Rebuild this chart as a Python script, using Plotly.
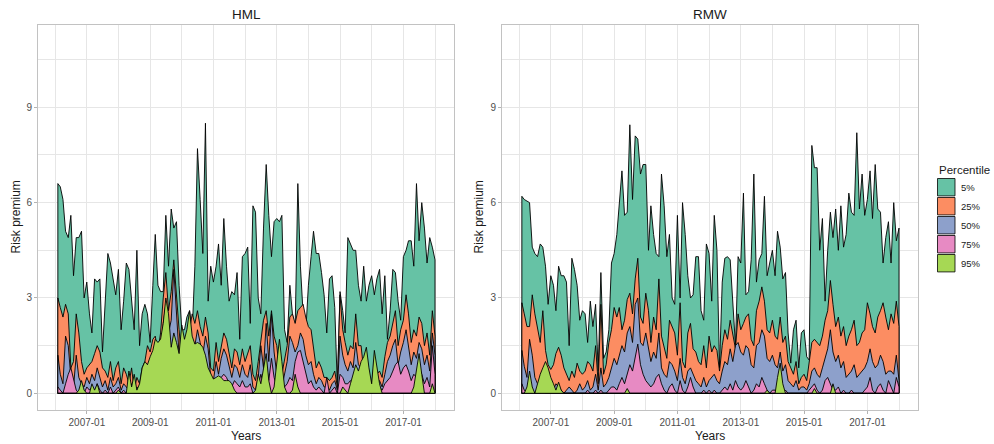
import pandas as pd
import plotly.graph_objects as go

# Monthly observation dates (month ends, Jan 2006 - Dec 2017)
dates = pd.date_range(start="2006-01-31", end="2017-12-31", freq=pd.offsets.MonthEnd())

percentiles = ["5%", "25%", "50%", "75%", "95%"]
colors = ["#66C2A5", "#FC8D62", "#8DA0CB", "#E78AC3", "#A6D854"]

# ---------------- HML risk premium by percentile ----------------
hml_p5 = [
    6.6, 6.5, 6.1, 5.1, 4.9, 5.6, 3.7, 4.9, 4.9, 5.1, 3.0, 3.5,
    2.5, 1.9, 3.6, 3.5, 3.6, 1.3, 2.9, 4.4, 4.1, 3.6, 3.1, 3.9,
    2.0, 2.9, 4.1, 3.9, 2.9, 2.0, 4.5, 1.5, 2.5, 2.8, 2.5, 1.6,
    3.4, 5.0, 3.4, 3.2, 3.2, 5.6, 4.0, 5.8, 5.2, 5.4, 3.4, 2.0,
    2.0, 2.4, 2.6, 1.9, 4.0, 7.7, 6.1, 4.4, 8.5, 2.9, 4.0, 3.5,
    4.0, 4.7, 3.4, 5.5, 4.0, 2.9, 3.2, 3.1, 3.8, 1.7, 4.3, 4.4,
    4.6, 2.2, 5.9, 5.7, 3.0, 2.5, 5.2, 7.2, 5.6, 4.3, 5.4, 5.5,
    5.4, 5.6, 2.0, 1.6, 3.4, 2.5, 2.0, 6.6, 4.0, 2.5, 1.9, 3.4,
    4.3, 5.1, 4.4, 4.4, 3.8, 3.1, 1.9, 3.6, 3.7, 2.7, 0.2, 3.2,
    2.6, 1.9, 4.9, 4.7, 4.5, 4.5, 3.4, 2.9, 4.0, 2.9, 3.4, 3.7,
    3.1, 3.6, 3.9, 2.5, 3.7, 1.7, 2.6, 3.9, 3.8, 2.9, 2.3, 4.3,
    4.5, 4.8, 4.8, 4.0, 6.6, 4.8, 6.0, 5.2, 4.1, 4.9, 4.6, 4.2,
]
hml_p25 = [
    3.0, 2.7, 2.4, 2.8, 2.5, 0.8, 1.0, 2.5, 1.9, 1.0, 0.6, 0.8,
    0.9, 1.0, 1.25, 1.5, 1.3, 0.8, 0.7, 0.5, 1.0, 0.4, 0.8, 1.0,
    0.3, 0.8, 0.6, 0.3, 0.8, 0.1, 0.5, 0.3, 0.8, 1.0, 1.5, 1.3,
    1.7, 1.8, 1.3, 1.9, 3.0, 3.8, 2.6, 3.2, 4.2, 3.0, 2.0, 1.0,
    1.5, 1.2, 2.0, 2.5, 2.2, 2.6, 2.1, 1.8, 2.4, 1.9, 0.8, 0.7,
    1.6, 1.0, 1.5, 1.9, 1.7, 1.2, 0.8, 1.4, 1.3, 0.9, 1.4, 1.0,
    1.3, 1.5, 0.6, 0.4, 1.0, 1.7, 2.3, 2.6, 1.8, 2.6, 1.8, 1.5,
    0.7, 0.6, 1.0, 1.5, 2.4, 2.5, 2.2, 2.6, 2.7, 2.8, 2.4, 2.1,
    2.0, 1.5, 0.8, 1.0, 0.8, 0.5, 0.5, 0.4, 0.5, 0.7, 0.2, 3.1,
    2.0, 1.6, 1.2, 1.5, 1.4, 2.5, 1.5, 1.5, 0.7, 0.5, 0.4, 0.3,
    1.0, 0.6, 0.7, 0.5, 1.15, 1.6, 1.8, 2.2, 2.6, 1.5, 2.0, 2.3,
    3.1, 2.5, 1.6, 2.0, 1.8, 2.4, 2.2, 1.5, 1.9, 1.2, 2.6, 1.8,
]
hml_p50 = [
    1.2, 0.6, 0.3, 1.8, 1.5, 0.5, 0.2, 1.2, 0.5, 0.3, 0.2, 0.5,
    0.3, 0.6, 0.4, 0.8, 0.5, 0.2, 0.4, 0.1, 0.5, 0.2, 0.3, 0.5,
    0.1, 0.3, 0.2, 0.1, 0.3, 0.0, 0.2, 0.1, 0.4, 0.5, 0.9, 0.7,
    1.0, 1.2, 0.8, 1.1, 2.2, 2.8, 1.9, 2.3, 3.9, 2.5, 1.2, 0.6,
    1.0, 0.8, 1.3, 1.7, 1.5, 2.0, 1.6, 1.2, 1.8, 1.4, 0.5, 0.4,
    1.0, 0.6, 1.1, 1.4, 1.2, 0.8, 0.5, 0.9, 0.8, 0.5, 0.9, 0.6,
    0.5, 0.9, 0.2, 0.1, 0.5, 1.5, 0.8, 2.2, 1.0, 2.5, 1.3, 0.6,
    0.3, 0.2, 0.6, 1.0, 1.8, 1.6, 1.3, 1.5, 1.9, 1.7, 1.2, 0.9,
    1.0, 0.6, 0.3, 0.5, 0.4, 0.2, 0.2, 0.1, 0.3, 0.4, 0.1, 1.8,
    1.2, 0.9, 0.7, 1.0, 0.8, 1.6, 0.9, 0.8, 0.3, 0.2, 0.2, 0.1,
    0.5, 0.3, 0.4, 0.2, 0.6, 1.0, 1.2, 1.5, 1.7, 0.9, 1.3, 1.6,
    2.0, 1.5, 0.9, 1.3, 1.1, 1.6, 1.4, 0.9, 1.2, 0.7, 1.9, 1.2,
]
hml_p75 = [
    0.2, 0.1, 0.0, 0.3, 0.6, 0.8, 0.4, 0.1, 0.0, 0.1, 0.0, 0.2,
    0.1, 0.2, 0.0, 0.3, 0.1, 0.0, 0.1, 0.0, 0.2, 0.0, 0.1, 0.2,
    0.0, 0.1, 0.0, 0.0, 0.1, 0.0, 0.0, 0.0, 0.1, 0.2, 0.4, 0.3,
    0.4, 0.6, 0.4, 0.5, 1.0, 1.4, 0.9, 1.0, 1.6, 1.2, 0.5, 0.3,
    0.5, 0.4, 0.6, 0.8, 0.7, 1.0, 0.8, 0.6, 0.9, 0.6, 0.2, 0.2,
    0.4, 0.2, 0.5, 0.6, 0.5, 0.3, 0.2, 0.4, 0.3, 0.2, 0.4, 0.2,
    0.2, 0.3, 0.0, 0.0, 0.2, 0.6, 0.3, 0.9, 0.4, 1.1, 0.5, 0.2,
    0.1, 0.0, 0.2, 0.3, 0.5, 0.4, 1.0, 1.3, 1.35, 1.0, 0.6, 0.3,
    0.4, 0.2, 0.1, 0.2, 0.1, 0.0, 0.5, 0.0, 0.1, 0.2, 0.0, 0.6,
    0.5, 0.3, 0.3, 0.4, 0.3, 0.7, 0.4, 0.3, 0.1, 0.0, 0.1, 0.0,
    0.2, 0.1, 0.2, 0.1, 0.3, 0.4, 0.5, 0.7, 0.9, 1.0, 0.6, 0.8,
    0.9, 0.7, 0.4, 0.6, 0.5, 0.8, 0.6, 0.3, 0.5, 0.2, 1.5, 0.6,
]
hml_p95 = [
    0.0, 0.0, 0.0, 0.0, 0.0, 0.0, 0.0, 0.0, 0.1, 0.4, 0.1, 0.0,
    0.0, 0.3, 0.1, 0.3, 0.0, 0.0, 0.0, 0.0, 0.0, 0.0, 0.0, 0.1,
    0.0, 0.0, 0.0, 0.7, 0.2, 0.6, 0.1, 0.3, 0.8, 1.0, 0.9, 1.15,
    1.35, 1.7, 1.6, 1.7, 2.2, 3.0, 2.5, 1.45, 1.9, 1.6, 1.25, 2.15,
    1.7, 2.0, 2.6, 1.8, 1.55, 1.6, 1.55, 1.45, 1.2, 0.8, 0.6, 0.45,
    0.5, 0.55, 0.5, 0.4, 0.4, 0.4, 0.3, 0.1, 0.0, 0.0, 0.0, 0.0,
    0.0, 0.0, 0.0, 0.1, 0.6, 0.3, 0.8, 1.25, 0.4, 0.0, 0.2, 0.9,
    1.7, 1.0, 0.2, 0.0, 0.0, 0.1, 0.6, 0.2, 0.0, 0.0, 0.0, 0.0,
    0.0, 0.0, 0.0, 0.0, 0.0, 0.0, 0.0, 0.0, 0.0, 0.0, 0.0, 0.0,
    0.2, 0.1, 0.0, 0.3, 0.6, 0.9, 0.7, 1.0, 1.15, 1.45, 0.8, 0.3,
    1.35, 0.9, 0.3, 0.0, 0.0, 0.0, 0.0, 0.0, 0.0, 0.0, 0.0, 0.0,
    0.0, 0.0, 0.0, 0.2, 0.7, 1.25, 0.6, 0.0, 0.0, 0.0, 0.3, 0.0,
]

# ---------------- RMW risk premium by percentile ----------------
rmw_p5 = [
    6.2, 6.1, 6.05, 6.0, 4.6, 4.4, 4.3, 4.7, 4.6, 4.0, 2.8, 3.7,
    3.4, 2.6, 4.0, 3.7, 3.7, 3.5, 1.5, 4.25, 3.9, 3.4, 2.3, 2.6,
    2.5, 1.6, 2.9, 2.1, 2.8, 0.7, 3.8, 1.1, 1.3, 2.0, 4.1, 4.4,
    5.0, 6.1, 7.0, 5.6, 5.7, 8.45, 6.1, 8.1, 8.0, 6.9, 7.2, 7.2,
    4.5, 5.9, 5.0, 4.4, 4.3, 6.9, 5.9, 4.3, 5.0, 3.0, 2.8, 5.6,
    3.0, 6.0, 5.0, 3.7, 3.0, 3.1, 4.3, 4.3, 2.6, 2.3, 4.7, 4.4,
    2.9, 5.6, 4.5, 0.8, 3.5, 4.25, 4.3, 4.2, 2.7, 1.5, 4.3, 4.1,
    6.3, 3.1, 3.2, 4.2, 6.9, 3.5, 4.2, 4.4, 6.2, 3.7, 4.1, 4.5,
    3.7, 5.1, 4.6, 3.6, 3.8, 1.9, 0.95, 2.0, 2.3, 0.8, 1.9, 2.0,
    1.15, 1.05, 7.8, 7.1, 7.1, 4.5, 5.5, 2.9, 4.5, 5.7, 4.9, 5.8,
    4.5, 5.9, 4.6, 5.0, 6.3, 5.7, 5.6, 8.2, 5.8, 6.9, 5.6, 6.1,
    7.0, 5.5, 7.2, 5.8, 5.7, 4.1, 4.9, 5.4, 4.1, 6.0, 4.8, 5.2,
]
rmw_p25 = [
    2.85, 2.5, 2.1, 2.1, 3.1, 2.5, 2.0, 1.6, 2.6, 1.35, 0.9, 0.75,
    0.9, 1.25, 1.45, 1.2, 0.8, 0.6, 0.4, 0.7, 0.5, 0.95, 0.7, 0.6,
    0.7, 1.0, 0.9, 0.7, 1.5, 0.3, 2.8, 0.6, 0.9, 1.6, 2.0, 2.7,
    2.4, 2.7, 2.0, 2.3, 2.95, 3.15, 2.5, 3.6, 4.25, 2.4, 2.2, 3.15,
    2.6, 1.6, 2.4, 2.0, 3.6, 1.8, 1.4, 1.1, 2.3, 2.1, 1.9, 1.2,
    2.85, 1.0, 0.8, 1.9, 2.2, 1.4, 1.3, 1.0, 0.9, 1.5, 0.8, 1.8,
    1.3, 1.5, 1.35, 0.7, 1.5, 2.0, 1.7, 2.3, 1.8, 1.4, 2.5, 2.0,
    2.2, 2.4, 2.5, 1.7, 1.5, 2.6, 2.9, 3.35, 2.9, 2.0, 1.9, 2.3,
    1.8, 1.7, 2.4, 1.6, 1.8, 1.0, 0.8, 0.6, 1.0, 0.3, 0.5, 0.6,
    0.4, 0.9, 1.6, 1.7, 1.6, 1.5, 1.8, 2.3, 2.6, 3.55, 2.8, 2.1,
    2.4, 1.8, 2.1, 1.5, 1.8, 2.0, 2.3, 1.5, 1.6, 1.9, 2.0, 2.85,
    2.5, 2.1, 1.9, 2.4, 2.6, 2.85, 2.4, 2.0, 2.5, 2.2, 2.9, 2.1,
]
rmw_p50 = [
    1.35, 0.85, 0.5, 1.7, 1.2, 0.5, 0.3, 0.2, 0.7, 0.3, 0.1, 0.2,
    0.1, 0.3, 0.2, 0.1, 0.0, 0.1, 0.2, 0.1, 0.0, 0.1, 0.3, 0.1,
    0.2, 0.4, 0.1, 0.2, 0.6, 0.1, 0.8, 0.2, 0.3, 0.5, 0.8, 1.1,
    0.9, 1.2, 1.5, 1.3, 1.9, 2.1, 1.6, 2.8, 3.0, 1.6, 1.5, 1.9,
    1.4, 1.0, 1.3, 1.1, 1.9, 0.8, 0.6, 0.5, 1.0, 0.9, 0.7, 0.4,
    1.1, 0.5, 0.3, 0.7, 0.8, 0.6, 0.4, 0.3, 0.2, 0.5, 0.2, 0.4,
    0.5, 0.6, 0.4, 0.3, 0.7, 1.0, 0.9, 1.4, 1.0, 1.5, 1.6, 1.3,
    1.2, 1.5, 1.4, 0.9, 0.8, 1.5, 1.6, 2.0, 1.8, 1.1, 1.0, 1.2,
    0.9, 0.8, 1.3, 0.7, 0.9, 0.4, 0.3, 0.2, 0.4, 0.1, 0.2, 0.2,
    0.1, 0.3, 0.7, 0.8, 0.6, 0.5, 0.8, 1.1, 1.4, 2.0, 1.3, 1.0,
    1.2, 0.8, 1.0, 0.5, 0.6, 0.7, 0.9, 0.5, 0.6, 0.7, 0.8, 1.0,
    1.4, 1.0, 0.8, 0.9, 1.2, 1.0, 0.6, 0.7, 0.7, 0.6, 1.2, 0.4,
]
rmw_p75 = [
    0.3, 0.1, 0.0, 0.2, 0.1, 0.0, 0.0, 0.0, 0.2, 0.0, 0.0, 0.0,
    0.0, 0.0, 0.0, 0.0, 0.0, 0.0, 0.0, 0.0, 0.0, 0.0, 0.0, 0.0,
    0.0, 0.1, 0.0, 0.0, 0.1, 0.0, 0.1, 0.0, 0.0, 0.1, 0.2, 0.2,
    0.1, 0.3, 0.5, 0.3, 0.6, 0.9, 0.7, 1.2, 1.55, 0.9, 0.6, 0.4,
    0.3, 0.2, 0.3, 0.5, 0.6, 0.3, 0.1, 0.0, 0.2, 0.3, 0.1, 0.0,
    0.4, 0.1, 0.0, 0.2, 0.5, 0.2, 0.0, 0.0, 0.0, 0.1, 0.0, 0.1,
    0.0, 0.1, 0.0, 0.0, 0.1, 0.2, 0.1, 0.3, 0.1, 0.4, 0.2, 0.1,
    0.2, 0.4, 0.2, 0.0, 0.1, 0.3, 0.2, 0.5, 0.3, 0.1, 0.0, 0.1,
    0.1, 0.0, 0.2, 0.0, 0.1, 0.0, 0.0, 0.0, 0.0, 0.0, 0.0, 0.0,
    0.0, 0.1, 0.2, 0.3, 0.1, 0.0, 0.1, 0.4, 0.5, 0.3, 0.1, 0.1,
    0.2, 0.0, 0.1, 0.0, 0.0, 0.1, 0.0, 0.0, 0.0, 0.0, 0.1, 0.2,
    0.5, 0.1, 0.0, 0.2, 0.3, 0.1, 0.0, 0.4, 0.2, 0.0, 0.5, 0.2,
]
rmw_p95 = [
    0.0, 0.0, 0.2, 0.7, 0.2, 0.0, 0.3, 0.6, 0.8, 1.0, 0.8, 0.5,
    0.3, 0.1, 0.35, 0.1, 0.0, 0.0, 0.0, 0.0, 0.0, 0.0, 0.0, 0.0,
    0.0, 0.0, 0.0, 0.0, 0.0, 0.0, 0.0, 0.0, 0.0, 0.0, 0.0, 0.0,
    0.0, 0.0, 0.0, 0.0, 0.15, 0.0, 0.0, 0.0, 0.0, 0.0, 0.0, 0.0,
    0.0, 0.0, 0.0, 0.0, 0.0, 0.0, 0.0, 0.0, 0.0, 0.0, 0.0, 0.0,
    0.0, 0.0, 0.0, 0.0, 0.0, 0.0, 0.0, 0.0, 0.0, 0.0, 0.0, 0.0,
    0.0, 0.0, 0.0, 0.0, 0.0, 0.0, 0.0, 0.0, 0.0, 0.0, 0.0, 0.0,
    0.0, 0.0, 0.0, 0.0, 0.0, 0.0, 0.0, 0.0, 0.0, 0.1, 0.0, 0.0,
    0.0, 0.5, 0.95, 0.3, 0.0, 0.0, 0.0, 0.0, 0.0, 0.0, 0.0, 0.0,
    0.0, 0.0, 0.0, 0.15, 0.0, 0.0, 0.0, 0.0, 0.0, 0.0, 0.3, 0.0,
    0.0, 0.0, 0.0, 0.0, 0.0, 0.0, 0.0, 0.0, 0.0, 0.0, 0.0, 0.0,
    0.0, 0.0, 0.0, 0.0, 0.0, 0.0, 0.0, 0.0, 0.0, 0.0, 0.0, 0.0,
]

panels = {
    "HML": [hml_p5, hml_p25, hml_p50, hml_p75, hml_p95],
    "RMW": [rmw_p5, rmw_p25, rmw_p50, rmw_p75, rmw_p95],
}

# ---------------- geometry (pixels of the 994 x 444 canvas) ----------------
W, H = 994, 444
ML, MR, MT, MB = 38, 76, 25, 34
PW, PH = W - ML - MR, H - MT - MB


def px(x):
    return (x - ML) / PW


def py(y):
    return (H - MB - y) / PH


FONT = "Liberation Sans, Arial, Helvetica, sans-serif"
GRID = "#E6E6E6"
BORDER = "#C2C2C2"
TXT = "#4D4D4D"

fig = go.Figure()

x_dates = list(dates)
for k, (name, series) in enumerate(panels.items()):
    xa = "x" if k == 0 else "x2"
    ya = "y" if k == 0 else "y2"
    for vals, lab, col in zip(series, percentiles, colors):
        # closed polygon so the outline runs down both edges and along zero
        xs = [x_dates[0]] + x_dates + [x_dates[-1], x_dates[0]]
        ys = [0.0] + list(vals) + [0.0, 0.0]
        fig.add_trace(go.Scatter(
            x=xs, y=ys, mode="lines", fill="toself", fillcolor=col,
            line=dict(color="black", width=0.9),
            name=lab, showlegend=False, hoverinfo="skip",
            xaxis=xa, yaxis=ya,
        ))

x_range = ["2005-06-16", "2018-08-07"]
y_range = [-0.525, 11.59]

xaxis_common = dict(
    type="date", range=x_range, tickformat="%Y-%m",
    tick0="2007-01-01", dtick="M24",
    showgrid=True, gridcolor=GRID, gridwidth=1,
    minor=dict(tick0="2006-01-01", dtick="M24", showgrid=True,
               gridcolor=GRID, gridwidth=0.8, ticks=""),
    ticks="outside", ticklen=3, tickcolor="#B3B3B3", tickwidth=0.8,
    showline=True, mirror=True, linecolor=BORDER, linewidth=1,
    tickfont=dict(family=FONT, size=10, color=TXT),
    zeroline=False,
)
yaxis_common = dict(
    range=y_range, tickvals=[0, 3, 6, 9],
    showgrid=True, gridcolor=GRID, gridwidth=1,
    minor=dict(tickvals=[1.5, 4.5, 7.5, 10.5], showgrid=True,
               gridcolor=GRID, gridwidth=0.8, ticks=""),
    ticks="outside", ticklen=3, tickcolor="#B3B3B3", tickwidth=0.8,
    showline=True, mirror=True, linecolor=BORDER, linewidth=1,
    tickfont=dict(family=FONT, size=10, color=TXT),
    zeroline=False,
)

left_dom = [0.0, px(454)]
right_dom = [px(502), 1.0]

fig.update_layout(
    width=W, height=H,
    margin=dict(l=ML, r=MR, t=MT, b=MB),
    paper_bgcolor="white", plot_bgcolor="white",
    showlegend=False,
    xaxis=dict(domain=left_dom, anchor="y", **xaxis_common),
    yaxis=dict(domain=[0, 1], anchor="x", **yaxis_common),
    xaxis2=dict(domain=right_dom, anchor="y2", **xaxis_common),
    yaxis2=dict(domain=[0, 1], anchor="x2", **yaxis_common),
)

annotations = []
shapes = []

# facet titles and axis titles
for name, (x0, x1), ytitle_x in [("HML", (38, 454), 15), ("RMW", (502, 918), 478)]:
    xc = (x0 + x1) / 2
    annotations.append(dict(text=name, x=px(xc), y=py(14.5), xref="paper", yref="paper",
                            showarrow=False, xanchor="center", yanchor="middle",
                            font=dict(family=FONT, size=13.5, color="#1A1A1A")))
    annotations.append(dict(text="Years", x=px(xc), y=py(436), xref="paper", yref="paper",
                            showarrow=False, xanchor="center", yanchor="middle",
                            font=dict(family=FONT, size=12, color="#1A1A1A")))
    annotations.append(dict(text="Risk premium", x=px(ytitle_x), y=py(217.5),
                            xref="paper", yref="paper", textangle=-90,
                            showarrow=False, xanchor="center", yanchor="middle",
                            font=dict(family=FONT, size=12, color="#1A1A1A")))

# legend: title, colour keys and labels
annotations.append(dict(text="Percentile", x=px(937), y=py(170), xref="paper", yref="paper",
                        showarrow=False, xanchor="left", yanchor="middle",
                        font=dict(family=FONT, size=11.5, color="#1A1A1A")))
key_top = 178.5
key_step = 19.0
for j, (lab, col) in enumerate(zip(percentiles, colors)):
    top = key_top + j * key_step
    bot = top + 17.4
    shapes.append(dict(type="rect", xref="paper", yref="paper",
                       x0=px(937.5), x1=px(955), y0=py(bot), y1=py(top),
                       fillcolor=col, line=dict(color="black", width=0.8)))
    annotations.append(dict(text=lab, x=px(958.5), y=py((top + bot) / 2),
                            xref="paper", yref="paper", showarrow=False,
                            xanchor="left", yanchor="middle",
                            font=dict(family=FONT, size=9.5, color="#1A1A1A")))

fig.update_layout(annotations=annotations, shapes=shapes)

fig.write_html("out.html")
